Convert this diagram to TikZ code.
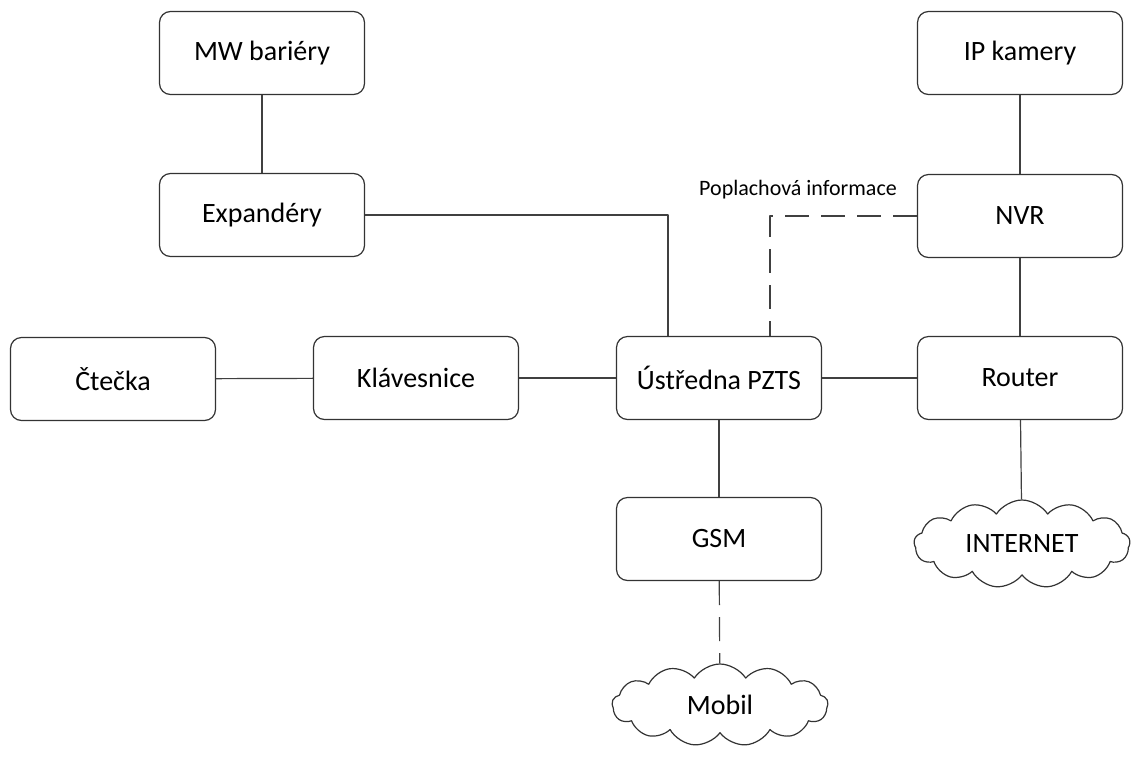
\documentclass[tikz,border=0pt]{standalone}
\usepackage{fontspec}
\setmainfont{Carlito}
\usetikzlibrary{shapes.symbols}

\tikzset{
  box/.style={draw=black!80,line width=1.2pt,rounded corners=11pt,fill=white,
    minimum width=205pt,minimum height=83pt,font=\fontsize{28}{30}\selectfont},
  cloudbox/.style={cloud,cloud puffs=13,cloud puff arc=115,cloud ignores aspect,draw=black!80,
    line width=1.2pt,minimum width=216pt,minimum height=88pt,inner sep=0pt,
    font=\fontsize{28}{30}\selectfont},
  link/.style={draw=black!75,line width=1.2pt},
  dashlink/.style={link,dash pattern=on 24pt off 12pt}
}

\begin{document}
\begin{tikzpicture}[line cap=butt,line join=round,x=1pt,y=-1pt]
\useasboundingbox (0,0) rectangle (1137,758);
% boxes
\node[box] (mw) at (262,53) {MW bariéry};
\node[box] (exp) at (262,215) {Expandéry};
\node[box] (ipk) at (1020,53) {IP kamery};
\node[box] (nvr) at (1020,216) {NVR};
\node[box] (cte) at (113,379) {Čtečka};
\node[box] (klav) at (416,378) {Klávesnice};
\node[box] (pzts) at (719,378) {Ústředna PZTS};
\node[box] (router) at (1020,378) {Router};
\node[box] (gsm) at (719,539) {GSM};
\node[cloudbox] (inet) at (1022,544) {INTERNET};
\node[cloudbox,minimum height=82pt] (mobil) at (720,705) {Mobil};
\node[font=\fontsize{22}{24}\selectfont] (popl) at (798,190) {Poplachová informace};
% spoje
\draw[link] (mw) -- (exp);
\draw[link] (exp.east) -| ([xshift=-51pt]pzts.north);
\draw[dashlink] (nvr.west) -| ([xshift=51pt]pzts.north);
\draw[link] (ipk) -- (nvr);
\draw[link] (nvr) -- (router);
\draw[link] (cte) -- (klav);
\draw[link] (klav) -- (pzts);
\draw[link] (pzts) -- (router);
\draw[link] (pzts) -- (gsm);
\draw[link] (router) -- (inet);
\draw[dashlink] (gsm) -- (mobil);
\end{tikzpicture}
\end{document}
